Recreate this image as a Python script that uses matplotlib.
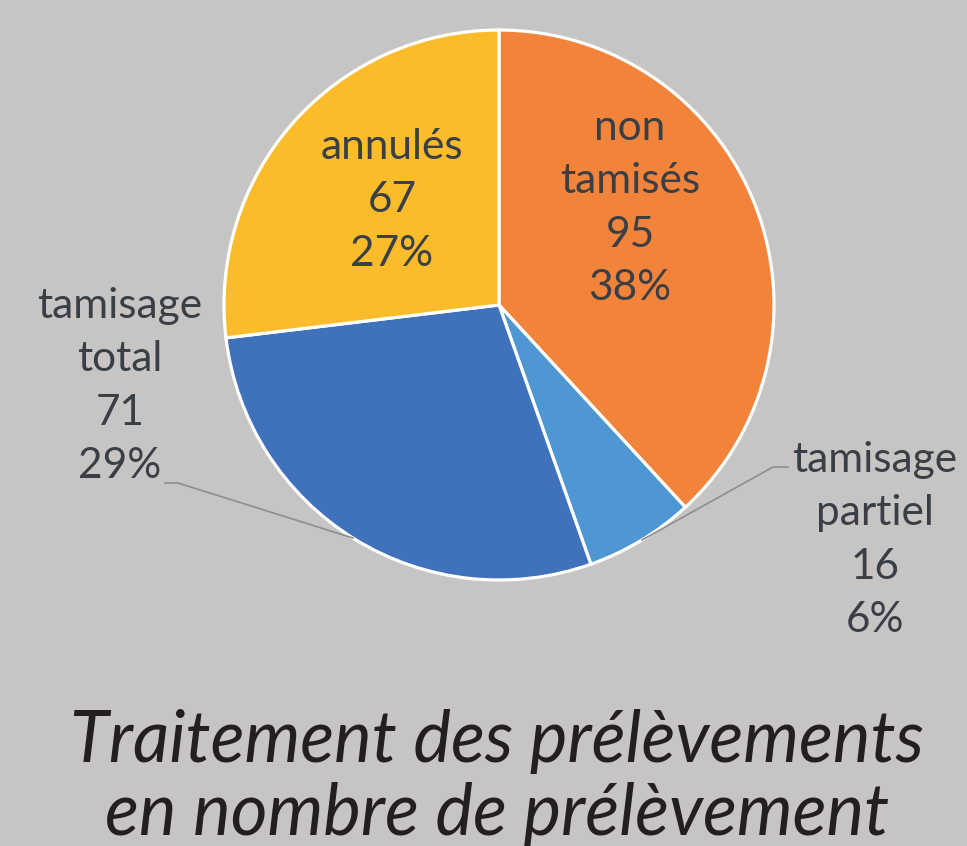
import matplotlib
matplotlib.use("Agg")
import matplotlib.pyplot as plt

categories = ["non\ntamisés", "tamisage\npartiel", "tamisage\ntotal", "annulés"]
values = [95, 16, 71, 67]
percents = ["38%", "6%", "29%", "27%"]
colors = ["#F2833B", "#4E97D2", "#3F72BA", "#FBBC2B"]

W, H = 967, 846
fig = plt.figure(figsize=(W / 100, H / 100), dpi=100)
bg = "#C6C5C3"
fig.patch.set_facecolor(bg)
ax = fig.add_axes([0, 0, 1, 1])
ax.set_xlim(0, W)
ax.set_ylim(0, H)
ax.set_aspect("equal")
ax.axis("off")

cx, cy, r = 499, H - 305, 275
ax.pie(values, colors=colors, startangle=90, counterclock=False,
       center=(cx, cy), radius=r,
       wedgeprops=dict(edgecolor="white", linewidth=2.3))
ax.set_xlim(0, W)
ax.set_ylim(0, H)

txt = "#3A3E45"
font = "Lato"
fs = 30.5
label_pos = [(630, 208), (875, 540), (120, 386), (392, 200)]
for cat, v, p, (x, y) in zip(categories, values, percents, label_pos):
    ax.text(x, H - y, f"{cat}\n{v}\n{p}", ha="center", va="center",
            fontsize=fs, color=txt, family=font, linespacing=1.5)

# leader lines
lc = "#8E8E8E"
ax.plot([165, 178, 353], [H - 483, H - 483, H - 538], color=lc, lw=1.2)
ax.plot([788, 773, 642], [H - 467, H - 467, H - 540], color=lc, lw=1.2)

ax.text(497, H - 778, "Traitement des prélèvements\nen nombre de prélèvement",
        ha="center", va="center", fontsize=51, style="italic",
        color="#231F20", family="Lato", linespacing=1.15)

fig.savefig("out.png", dpi=100, facecolor=bg)
